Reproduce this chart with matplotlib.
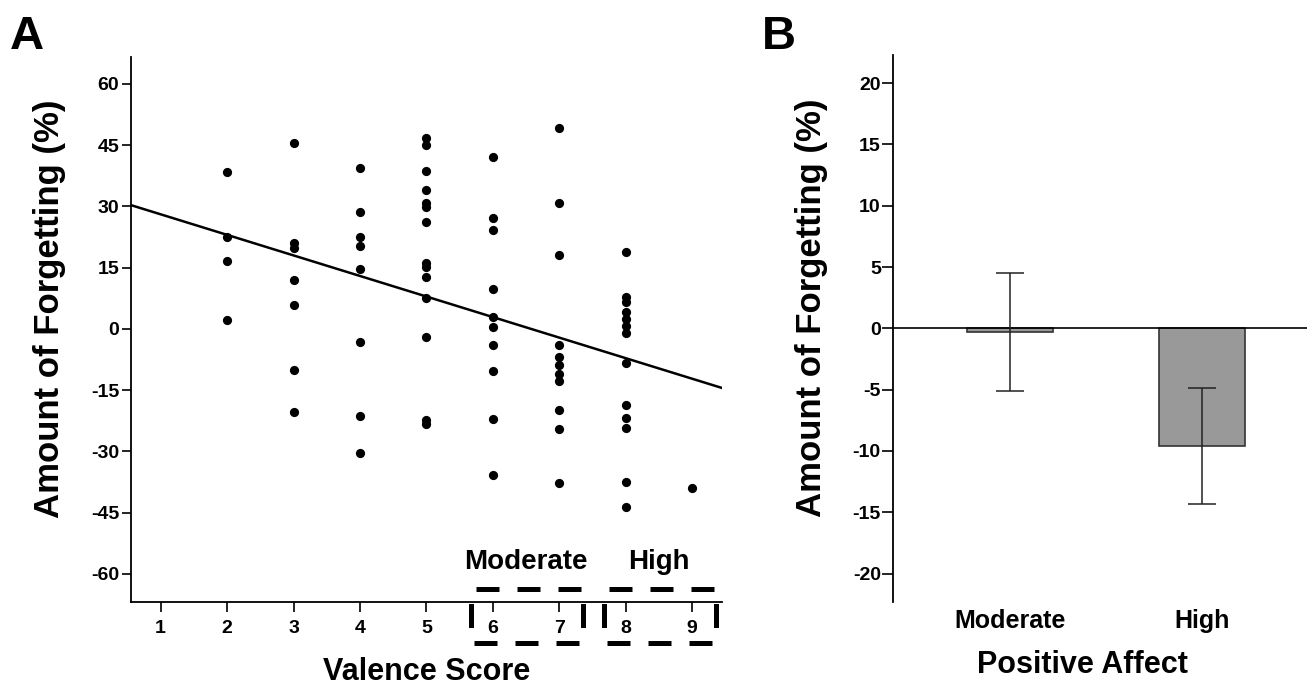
import matplotlib
matplotlib.use('Agg')
import matplotlib.pyplot as plt
import numpy as np

plt.rcParams['font.family'] = 'Liberation Sans'
plt.rcParams['axes.unicode_minus'] = False

# panel A: amount of forgetting (%) per valence score
score_2 = [38.5, 22.6, 16.7, 2.2]
score_3 = [45.5, 21.1, 19.8, 12.0, 5.8, -10.1, -20.4]
score_4 = [39.5, 28.6, 22.6, 20.3, 14.6, -3.1, -21.3, -30.4]
score_5 = [46.8, 45.0, 38.6, 34.0, 30.8, 29.8, 26.3, 16.1, 15.1, 12.7, 7.5, -1.9, -22.3, -23.3]
score_6 = [42.2, 27.2, 24.2, 9.7, 3.0, 0.5, -3.9, -10.2, -22.0, -35.8]
score_7 = [49.2, 30.9, 18.0, -3.9, -6.8, -8.9, -11.0, -12.8, -19.8, -24.4, -37.8]
score_8 = [18.9, 7.9, 6.5, 4.2, 2.4, 0.6, -1.0, -8.4, -18.6, -21.9, -24.3, -37.6, -43.5]
score_9 = [-38.9]
scores = [2, 3, 4, 5, 6, 7, 8, 9]
groups_a = [score_2, score_3, score_4, score_5, score_6, score_7, score_8, score_9]

x_ticks_a = [1, 2, 3, 4, 5, 6, 7, 8, 9]
y_ticks_a = [-60, -45, -30, -15, 0, 15, 30, 45, 60]
moderate_range = (6, 7)
high_range = (8, 9)

# panel B: means and error bars
affect = ['Moderate', 'High']
mean_forget = [-0.3, -9.6]
err_forget = [4.85, 4.7]
y_ticks_b = [-20, -15, -10, -5, 0, 5, 10, 15, 20]

valence = np.concatenate([[s] * len(g) for s, g in zip(scores, groups_a)])
forget = np.concatenate(groups_a)

fig = plt.figure(figsize=(13.07, 6.89), dpi=100)

# ---------------- panel A ----------------
axA = fig.add_axes([0.1002, 0.1267, 0.4522, 0.7906])
axA.scatter(valence, forget, s=44, color='black', zorder=3, linewidths=0)

xlim_a = (0.553, 9.45)
slope, intercept = np.polyfit(valence, forget, 1)
xx = np.array(xlim_a)
axA.plot(xx, intercept + slope * xx, color='black', lw=1.8)

axA.set_xlim(*xlim_a)
axA.set_ylim(-66.8, 66.6)
axA.set_xticks(x_ticks_a)
axA.set_yticks(y_ticks_a)
axA.spines['top'].set_visible(False)
axA.spines['right'].set_visible(False)
for sp in ['left', 'bottom']:
    axA.spines[sp].set_linewidth(1.3)
axA.tick_params(axis='y', direction='out', length=6.5, width=1.2, pad=2, labelsize=14)
axA.tick_params(axis='x', direction='out', length=7.5, width=1.2, pad=6, labelsize=14)
for lab in axA.get_xticklabels() + axA.get_yticklabels():
    lab.set_fontweight('bold')

axA.set_ylabel('Amount of Forgetting (%)', fontsize=25, fontweight='bold', va='center')
axA.yaxis.set_label_coords(-0.137, 0.537)
axA.set_xlabel('Valence Score', fontsize=22, fontweight='bold', va='center')
axA.xaxis.set_label_coords(0.501, -0.129)

# dashed boxes marking the groups
box_top, box_bot = -63.7, -76.9
for lo, hi in [moderate_range, high_range]:
    x0, x1 = lo - 0.33, hi + 0.36
    kw = dict(color='black', lw=3.6, clip_on=False, solid_capstyle='butt',
              dash_capstyle='butt')
    axA.plot([x0, x1], [box_top, box_top], ls=(7.2, (4.6, 3.6)), **kw)
    axA.plot([x0, x1], [box_bot, box_bot], ls=(7.6, (4.6, 3.6)), **kw)
    axA.plot([x0, x0], [box_top, box_bot], ls=(7.9, (4.8, 6.0)), **kw)
    axA.plot([x1, x1], [box_top, box_bot], ls=(7.9, (4.8, 6.0)), **kw)
    axA.text((lo + hi) / 2, -57, 'Moderate' if lo == moderate_range[0] else 'High',
             ha='center', va='center', fontsize=20, fontweight='bold')

fig.text(0.0077, 0.929, 'A', fontsize=34, fontweight='bold', ha='left', va='baseline')

# ---------------- panel B ----------------
axB = fig.add_axes([0.6835, 0.1267, 0.3165, 0.7935])
pos = np.arange(len(affect))
axB.bar(pos, mean_forget, width=0.45, color='#999999', edgecolor='#333333',
        linewidth=1.2, zorder=2)
axB.errorbar(pos, mean_forget, yerr=err_forget, fmt='none', ecolor='#222222',
             elinewidth=1.1, capsize=10, capthick=1.1, zorder=3)
axB.axhline(0, color='black', lw=1.2, zorder=2.5)

axB.set_xlim(-0.611, 1.55)
axB.set_ylim(-22.3, 22.3)
axB.set_yticks(y_ticks_b)
axB.set_xticks(pos)
axB.set_xticklabels(affect)
for sp in ['top', 'right', 'bottom']:
    axB.spines[sp].set_visible(False)
axB.spines['left'].set_linewidth(1.3)
axB.tick_params(axis='y', direction='out', length=8, width=1.2, pad=1, labelsize=14)
axB.tick_params(axis='x', length=0, pad=5, labelsize=18)
for lab in axB.get_xticklabels() + axB.get_yticklabels():
    lab.set_fontweight('bold')

axB.set_ylabel('Amount of Forgetting (%)', fontsize=25, fontweight='bold', va='center')
axB.yaxis.set_label_coords(-0.197, 0.537)
axB.set_xlabel('Positive Affect', fontsize=22, fontweight='bold', va='center')
axB.xaxis.set_label_coords(0.456, -0.116)

fig.text(0.583, 0.929, 'B', fontsize=34, fontweight='bold', ha='left', va='baseline')

fig.savefig('out.png', dpi=100)
